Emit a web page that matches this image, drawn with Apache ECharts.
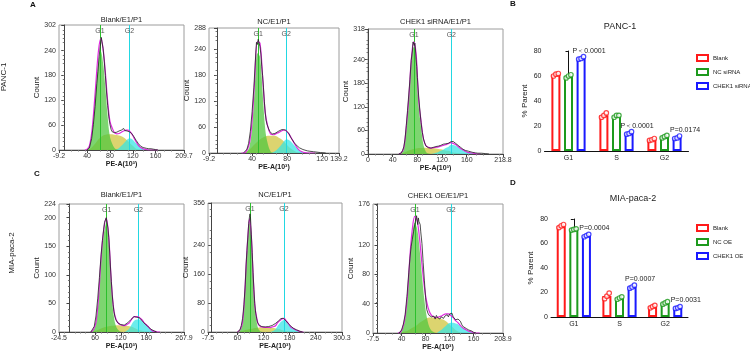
<!DOCTYPE html>
<html>
<head>
<meta charset="utf-8">
<script src="https://cdn.jsdelivr.net/npm/echarts@6/dist/echarts.min.js"></script>
<style>
html,body{margin:0;padding:0;background:#fff}
#main{width:750px;height:353px}
</style>
</head>
<body>
<div id="main"></div>
<script>
// ---------- flow histograms: bins + fitted components (G1 / S / G2) + raw counts ----------
// A1 PANC-1 Blank
const a1Bins = [36,40,44,48,52,56,60,64,68,72,76,80,84,88,92,96,100,104,108,112,116,120,124,128,132,136,140,144,148,152,156,160,164];
const a1G1 = [0,2,8,35,88,155,215,238,210,150,80,32,15,5,1,0,0,0,0,0,0,0,0,0,0,0,0,0,0,0,0,0,0];
const a1S  = [0,0,2,6,12,19,26,31,35,37,38,38,38,37,36,35,33,30,26,21,15,10,5,2,0,0,0,0,0,0,0,0,0];
const a1G2 = [0,0,0,0,0,0,0,0,0,0,0,0,0,0,2,5,10,16,22,27,28,25,19,13,8,4,2,1,0,0,0,0,0];
const a1Raw = [[40,0],[44,5],[48,28],[51,62],[54,105],[57,160],[59,190],[61,225],[63,250],[65,272],[66,262],[68,245],[70,215],[72,180],[74,140],[76,108],[78,80],[80,62],[82,50],[84,44],[86,40],[88,42],[90,40],[92,43],[94,44],[96,46],[98,45],[100,48],[102,47],[104,52],[106,47],[108,50],[110,46],[112,45],[114,44],[116,42],[118,40],[120,36],[122,32],[124,28],[126,23],[128,19],[130,15],[132,12],[134,9],[136,7],[138,6],[140,5],[144,4],[148,3],[152,3],[156,2],[160,1],[164,0]];
const a1Peaks = [62.6, 114];
const a1XTicks = [-9.2,40,80,120,160,209.7];
const a1YTicks = [0,60,120,180,240,302];

// A2 PANC-1 NC siRNA
const a2Bins = [28,31,34,37,40,43,46,49,52,55,58,61,64,67,70,73,76,79,82,85,88,91,94,97,100,103,106,109,112];
const a2G1 = [0,0,3,15,60,150,230,222,140,55,20,4,0,0,0,0,0,0,0,0,0,0,0,0,0,0,0,0,0];
const a2S  = [0,0,3,8,14,20,26,31,35,38,40,40,40,39,36,32,27,20,14,9,5,2,0,0,0,0,0,0,0];
const a2G2 = [0,0,0,0,0,0,0,0,0,0,0,0,2,5,11,18,26,31,30,25,18,11,6,3,1,0,0,0,0];
const a2Raw = [[30,0],[32,3],[34,8],[36,22],[38,50],[40,95],[42,150],[43.5,205],[45,255],[46,250],[47,262],[48,258],[49,245],[50,228],[51,200],[52,178],[53,150],[54,118],[55,92],[56,75],[57,66],[58,62],[58.8,67],[60,50],[61,46],[62,48],[63,44],[65,46],[66,45],[68,49],[70,50],[72,51],[74,54],[76,55],[78,53],[80,52],[82,45],[84,36],[86,30],[88,24],[90,19],[92,15],[94,12],[96,10],[98,8],[100,7],[103,5],[106,4],[110,3],[114,2],[118,1],[124,0]];
const a2Peaks = [47, 79];
const a2XTicks = [-9.2,40,80,120,139.2];
const a2YTicks = [0,60,120,180,240,288];

// A3 PANC-1 CHEK1 siRNA
const a3Bins = [50,54,58,62,66,70,74,78,82,86,90,94,98,102,106,110,114,118,122,126,130,134,138,142,146,150,154,158,162,166,170,174,178,182];
const a3G1 = [0,2,12,62,130,225,272,240,125,68,22,5,1,0,0,0,0,0,0,0,0,0,0,0,0,0,0,0,0,0,0,0,0,0];
const a3S  = [0,1,3,6,9,11,13,14,15,15,16,16,16,15,15,14,13,12,11,9,8,6,4,3,2,1,0,0,0,0,0,0,0,0];
const a3G2 = [0,0,0,0,0,0,0,0,0,0,0,0,0,0,1,3,5,8,11,15,18,23,23,21,17,13,10,7,4,3,2,1,0,0];
const a3Raw = [[50,0],[54,3],[56,9],[58,18],[60,38],[62,72],[64,110],[66,150],[68,190],[70,238],[72,262],[73,285],[74,290],[75,276],[76,282],[77,262],[78,240],[79,222],[80,195],[82,150],[84,112],[86,80],[88,55],[90,38],[92,28],[94,20],[96,18],[98,16],[100,17],[102,15],[104,18],[106,17],[108,20],[110,19],[112,21],[114,20],[116,23],[118,22],[120,24],[122,25],[124,27],[126,26],[128,30],[130,27],[132,29],[134,31],[136,28],[138,32],[140,30],[142,27],[144,25],[146,22],[148,20],[150,17],[152,14],[154,12],[156,11],[158,9],[160,8],[163,7],[166,6],[170,4],[174,3],[178,2],[184,2],[190,1],[196,0]];
const a3Peaks = [74.6, 135];
const a3XTicks = [0,40,80,120,160,218.8];
const a3YTicks = [0,60,120,180,240,318];

// C1 MIA-paca-2 Blank
const c1Bins = [50,56,62,68,74,80,86,92,98,104,110,116,122,128,134,140,146,152,158,164,170,176,182,188,194,200,206,212];
const c1G1 = [0,3,15,56,125,170,190,155,75,26,8,2,0,0,0,0,0,0,0,0,0,0,0,0,0,0,0,0];
const c1S  = [0,1,2,4,6,8,9,10,11,11,12,12,12,11,11,10,9,7,5,3,2,1,0,0,0,0,0,0];
const c1G2 = [0,0,0,0,0,0,0,0,0,0,0,0,0,0,2,6,14,20,22,22,19,14,11,6,2,1,0,0];
const c1Raw = [[50,0],[54,2],[58,10],[62,28],[66,58],[70,95],[74,135],[77,160],[80,180],[82,192],[84,195],[86,200],[87,203],[88,198],[90,182],[92,165],[94,140],[96,112],[98,88],[100,65],[102,48],[104,36],[106,28],[108,22],[110,19],[113,16],[116,14],[120,13],[124,12],[128,12],[132,14],[136,16],[140,19],[144,22],[148,25],[151,27],[154,28],[156,26],[158,28],[160,27],[163,25],[166,23],[170,20],[174,16],[178,14],[182,11],[186,8],[190,5],[194,3],[198,2],[204,0]];
const c1Peaks = [87, 161];
const c1XTicks = [-24.5,60,120,180,267.9];
const c1YTicks = [0,50,100,150,200,224];

// C2 MIA-paca-2 NC OE
const c2Bins = [60,64,68,72,76,80,84,88,92,96,100,104,108,112,116,120,124,128,132,136,140,144,148,152,156,160,164,168,172,176,180,184,188,192,196,200,204,208,212];
const c2G1 = [0,2,8,25,82,175,255,305,255,150,62,30,9,3,1,0,0,0,0,0,0,0,0,0,0,0,0,0,0,0,0,0,0,0,0,0,0,0,0];
const c2S  = [0,1,2,3,4,6,7,8,9,10,11,12,12,13,13,13,13,13,13,12,12,11,10,9,8,6,5,4,3,2,1,0,0,0,0,0,0,0,0];
const c2G2 = [0,0,0,0,0,0,0,0,0,0,0,0,0,0,0,0,0,0,0,0,2,4,8,16,22,28,32,33,28,23,17,12,10,7,5,3,1,0,0];
const c2Raw = [[60,0],[63,2],[66,6],[69,18],[72,38],[75,75],[78,130],[80,185],[82,225],[84,262],[86,300],[88,320],[89,326],[90,318],[91,295],[92,270],[94,220],[96,165],[98,118],[100,78],[102,52],[104,38],[106,27],[108,22],[110,19],[113,17],[116,15],[120,14],[124,14],[128,15],[132,15],[136,16],[140,18],[144,20],[148,24],[151,28],[154,30],[157,33],[160,37],[162,35],[164,40],[166,38],[168,36],[170,33],[172,30],[174,27],[177,23],[180,20],[183,16],[186,13],[189,10],[192,8],[196,6],[200,4],[204,2],[210,0]];
const c2Peaks = [89, 167];
const c2XTicks = [-7.5,60,120,180,240,300.3];
const c2YTicks = [0,80,160,240,356];

// C3 MIA-paca-2 CHEK1 OE
const c3Bins = [34,38,42,46,50,54,58,62,66,70,74,78,82,86,90,94,98,102,106,110,114,118,122,126,130,134,138,142,146,150,154,158,162,166,170];
const c3G1 = [0,1,6,20,50,100,135,150,142,115,78,45,22,9,3,1,0,0,0,0,0,0,0,0,0,0,0,0,0,0,0,0,0,0,0];
const c3S  = [0,0,1,2,3,5,7,9,11,14,16,18,20,21,21,21,21,20,19,18,16,13,10,7,4,2,1,0,0,0,0,0,0,0,0];
const c3G2 = [0,0,0,0,0,0,0,0,0,0,0,0,0,0,0,0,0,2,4,7,10,13,14,14,13,12,9,7,5,3,2,1,0,0,0];
const c3Raw = [[36,0],[40,4],[43,12],[46,25],[49,50],[52,82],[54,102],[56,118],[58,128],[60,138],[62,148],[63,152],[64,150],[65,160],[66,158],[67,148],[68,157],[69,152],[70,154],[71,148],[72,138],[74,122],[76,96],[78,72],[80,48],[82,32],[84,27],[86,24],[88,25],[90,22],[92,20],[94,23],[96,19],[98,24],[100,21],[102,23],[104,19],[106,22],[108,21],[110,20],[112,23],[114,21],[116,25],[118,22],[120,26],[122,25],[124,27],[126,22],[128,21],[130,18],[132,17],[134,19],[136,21],[138,16],[140,12],[142,9],[145,7],[148,6],[152,4],[156,3],[160,1],[164,0]];
const c3Peaks = [62.4, 122.3];
const c3XTicks = [-7.5,40,80,120,160,208.9];
const c3YTicks = [0,40,80,120,176];

// ---------- cell-cycle bar charts ----------
const phases = ['G1', 'S', 'G2'];
const panBlank = [61.3, 28.7, 9.2];
const panNC = [59.8, 28.0, 11.5];
const panChek = [74.3, 14.3, 10.8];
const panBlankRep = [[60, 61.5, 62], [27, 28.5, 30.5], [8.5, 9, 10]];
const panNCRep = [[58.5, 60, 61], [27, 28.5, 28.5], [10.5, 11.5, 12.5]];
const panChekRep = [[73.5, 74, 75.5], [13.5, 14, 15.5], [10, 10.5, 12]];
const panP = ['P\uFF1C0.0001', 'P\uFF1C0.0001', 'P=0.0174'];

const miaBlank = [74.0, 17.2, 8.5];
const miaNC = [71.6, 15.5, 11.5];
const miaChek = [66.5, 24.7, 7.7];
const miaBlankRep = [[73, 74.5, 75.5], [15, 17, 19.5], [7.5, 8.5, 9.5]];
const miaNCRep = [[71, 71.5, 72], [14.5, 15.5, 16.5], [10.5, 11.5, 12.5]];
const miaChekRep = [[65.5, 66.5, 67.5], [23.5, 24.5, 26], [7, 7.5, 8.5]];
const miaP = ['P=0.0004', 'P=0.0007', 'P=0.0031'];

// ---------- layout / style ----------
const FONT = '"Liberation Sans", Arial, sans-serif';
const col = {
  g1: 'rgba(80,198,62,0.74)', s: 'rgba(214,204,86,0.85)', g2: 'rgba(52,228,228,0.72)',
  g1Line: '#2cbf2c', g2Line: '#22d8e2', fit: '#e02ce0', raw: '#222'
};
const barCols = ['#ff1a1a', '#1d9a1d', '#1a1aff'];

const panels = [
  {title: 'Blank/E1/P1', bins: a1Bins, g1: a1G1, s: a1S, g2: a1G2, raw: a1Raw, peaks: a1Peaks, xt: a1XTicks, yt: a1YTicks, box: [59, 25, 125, 125], ty: 20, cg: 13, ng: 9},
  {title: 'NC/E1/P1', bins: a2Bins, g1: a2G1, s: a2S, g2: a2G2, raw: a2Raw, peaks: a2Peaks, xt: a2XTicks, yt: a2YTicks, box: [209, 28, 130, 125], ty: 22, cg: 10, ng: 9},
  {title: 'CHEK1 siRNA/E1/P1', bins: a3Bins, g1: a3G1, s: a3S, g2: a3G2, raw: a3Raw, peaks: a3Peaks, xt: a3XTicks, yt: a3YTicks, box: [368, 29, 135, 125], ty: 22, cg: 14, ng: 9},
  {title: 'Blank/E1/P1', bins: c1Bins, g1: c1G1, s: c1S, g2: c1G2, raw: c1Raw, peaks: c1Peaks, xt: c1XTicks, yt: c1YTicks, box: [59, 204, 125, 128], ty: 195, cg: 13, ng: 10},
  {title: 'NC/E1/P1', bins: c2Bins, g1: c2G1, s: c2S, g2: c2G2, raw: c2Raw, peaks: c2Peaks, xt: c2XTicks, yt: c2YTicks, box: [208, 203, 134, 129], ty: 195, cg: 12, ng: 10},
  {title: 'CHEK1 OE/E1/P1', bins: c3Bins, g1: c3G1, s: c3S, g2: c3G2, raw: c3Raw, peaks: c3Peaks, xt: c3XTicks, yt: c3YTicks, box: [373, 204, 130, 129], ty: 196, cg: 16, ng: 10}
];

const grid = [], xAxis = [], yAxis = [], series = [], graphic = [];

panels.forEach((p, i) => {
  const yMax = p.yt[p.yt.length - 1];
  grid.push({left: p.box[0], top: p.box[1], width: p.box[2], height: p.box[3], show: true, borderColor: '#9c9c9c', borderWidth: 1});
  xAxis.push({
    type: 'value', gridIndex: i, min: p.xt[0], max: p.xt[p.xt.length - 1],
    axisLine: {show: true, onZero: false, lineStyle: {color: '#444', width: 1}},
    axisTick: {show: true, customValues: p.xt, length: 3, lineStyle: {color: '#444'}},
    minorTick: {show: true, splitNumber: 4, length: 1.5, lineStyle: {color: '#777'}},
    axisLabel: {customValues: p.xt, fontSize: 7, color: '#333', margin: 3, fontFamily: FONT},
    splitLine: {show: false},
    name: 'PE-A(10\u00B3)', nameLocation: 'middle', nameGap: p.ng,
    nameTextStyle: {fontSize: 7, fontWeight: 'bold', color: '#222', fontFamily: FONT}
  });
  yAxis.push({
    type: 'value', gridIndex: i, min: 0, max: yMax,
    axisLine: {show: true, lineStyle: {color: '#444', width: 1}},
    axisTick: {show: true, customValues: p.yt, length: 3, lineStyle: {color: '#444'}},
    minorTick: {show: true, splitNumber: 5, length: 1.5, lineStyle: {color: '#777'}},
    axisLabel: {customValues: p.yt, fontSize: 7, color: '#333', margin: 3, fontFamily: FONT},
    splitLine: {show: false},
    name: 'Count', nameLocation: 'middle', nameRotate: 90, nameGap: p.cg,
    nameTextStyle: {fontSize: 8, color: '#222', fontFamily: FONT}
  });
  const comp = (arr, color, z) => ({
    type: 'line', xAxisIndex: i, yAxisIndex: i, symbol: 'none', smooth: 0.35, z: z,
    data: p.bins.map((b, k) => [b, arr[k]]),
    lineStyle: {width: 0}, areaStyle: {color: color, opacity: 1}
  });
  series.push(comp(p.s, col.s, 2));
  series.push(comp(p.g2, col.g2, 3));
  series.push(comp(p.g1, col.g1, 4));
  series.push({
    type: 'line', xAxisIndex: i, yAxisIndex: i, symbol: 'none', smooth: 0.35, z: 5,
    data: p.bins.map((b, k) => [b, p.g1[k] + p.s[k] + p.g2[k]]),
    lineStyle: {color: col.fit, width: 1.2},
    markLine: {
      silent: true, symbol: ['none', 'none'], label: {show: false},
      data: [
        {xAxis: p.peaks[0], lineStyle: {color: col.g1Line, width: 1, type: 'solid'}},
        {xAxis: p.peaks[1], lineStyle: {color: col.g2Line, width: 1, type: 'solid'}}
      ]
    },
    markPoint: {
      symbol: 'circle', symbolSize: 1, itemStyle: {color: 'rgba(0,0,0,0)'},
      label: {show: true, position: 'bottom', distance: 2, formatter: '{b}', fontSize: 7, color: '#555', fontFamily: FONT},
      data: [{name: 'G1', coord: [p.peaks[0], yMax]}, {name: 'G2', coord: [p.peaks[1], yMax]}]
    }
  });
  series.push({
    type: 'line', xAxisIndex: i, yAxisIndex: i, symbol: 'none', z: 6,
    data: p.raw, lineStyle: {color: col.raw, width: 0.8}
  });
  graphic.push({type: 'text', x: p.box[0] + p.box[2] / 2, y: p.ty,
    style: {text: p.title, align: 'center', verticalAlign: 'middle', fontSize: 7.5, fill: '#222', fontFamily: FONT}});
});

// bar chart panels
const bars = [
  {box: [544.5, 51, 144, 100], names: ['Blank', 'NC siRNA', 'CHEK1 siRNA'], vals: [panBlank, panNC, panChek], reps: [panBlankRep, panNCRep, panChekRep], p: panP, title: 'PANC-1', tx: 620, ty: 27, legTop: 54},
  {box: [551, 219, 137, 98], names: ['Blank', 'NC OE', 'CHEK1 OE'], vals: [miaBlank, miaNC, miaChek], reps: [miaBlankRep, miaNCRep, miaChekRep], p: miaP, title: 'MIA-paca-2', tx: 633, ty: 199, legTop: 224}
];
const legend = [];
bars.forEach((b, n) => {
  const gi = 6 + n;
  const catAx = 6 + n * 2, valAx = 7 + n * 2;
  grid.push({left: b.box[0], top: b.box[1], width: b.box[2], height: b.box[3]});
  xAxis.push({
    type: 'category', gridIndex: gi, data: phases,
    axisLine: {lineStyle: {color: '#111', width: 1}},
    axisTick: {alignWithLabel: true, length: 3, lineStyle: {color: '#111'}},
    axisLabel: {fontSize: 7, color: '#222', margin: 4, fontFamily: FONT}
  });
  xAxis.push({type: 'value', gridIndex: gi, min: -0.5, max: 2.5, show: false});
  yAxis.push({
    type: 'value', gridIndex: gi, min: 0, max: 80, interval: 20,
    axisLine: {show: true, lineStyle: {color: '#111', width: 1}},
    axisTick: {show: true, length: 3, lineStyle: {color: '#111'}},
    axisLabel: {fontSize: 7, color: '#222', margin: 3, fontFamily: FONT},
    splitLine: {show: false},
    name: '% Parent', nameLocation: 'middle', nameRotate: 90, nameGap: 16,
    nameTextStyle: {fontSize: 8, color: '#222', fontFamily: FONT}
  });
  const step = 12.6 / (b.box[2] / 3);
  b.names.forEach((nm, j) => {
    series.push({
      type: 'bar', name: nm, xAxisIndex: catAx, yAxisIndex: gi, data: b.vals[j],
      barWidth: 9, barGap: '40%',
      itemStyle: {color: '#fff', borderColor: barCols[j], borderWidth: 2},
      label: j === 2 ? {show: true, position: 'top', distance: 4, offset: [8, 0], fontSize: 7, color: '#222', fontFamily: FONT,
        formatter: (q) => b.p[q.dataIndex]} : {show: false},
      z: 2
    });
    const pts = [];
    b.reps[j].forEach((r, i) => r.forEach((v, k) => pts.push([i + (j - 1) * step + (k - 1) * 0.05, v])));
    series.push({
      type: 'scatter', name: nm + ' points', xAxisIndex: valAx, yAxisIndex: gi, data: pts,
      symbol: 'circle', symbolSize: 4.5, z: 4,
      itemStyle: {color: '#fff', borderColor: barCols[j], borderWidth: 1.2}
    });
  });
  legend.push({
    data: b.names, orient: 'vertical', left: 696, top: b.legTop, padding: 0, icon: 'rect',
    itemWidth: 11, itemHeight: 6, itemGap: 6,
    textStyle: {fontSize: 6, color: '#222', fontFamily: FONT}
  });
  graphic.push({type: 'text', x: b.tx, y: b.ty,
    style: {text: b.title, align: 'center', verticalAlign: 'middle', fontSize: 9, fill: '#222', fontFamily: FONT}});
});

// panel letters and row labels
[['A', 33, 5], ['B', 513, 4], ['C', 37, 174], ['D', 513, 183]].forEach(t => {
  graphic.push({type: 'text', x: t[1], y: t[2],
    style: {text: t[0], align: 'center', verticalAlign: 'middle', fontSize: 8, fontWeight: 'bold', fill: '#111', fontFamily: FONT}});
});
[['PANC-1', 4, 77], ['MIA-paca-2', 12, 253]].forEach(t => {
  graphic.push({type: 'text', x: t[1], y: t[2], rotation: Math.PI / 2,
    style: {text: t[0], align: 'center', verticalAlign: 'middle', fontSize: 8, fill: '#222', fontFamily: FONT}});
});

const chart = echarts.init(document.getElementById('main'), null, {renderer: 'canvas'});
chart.setOption({
  animation: false,
  backgroundColor: '#fff',
  grid, xAxis, yAxis, series, legend, graphic
});
</script>
</body>
</html>
